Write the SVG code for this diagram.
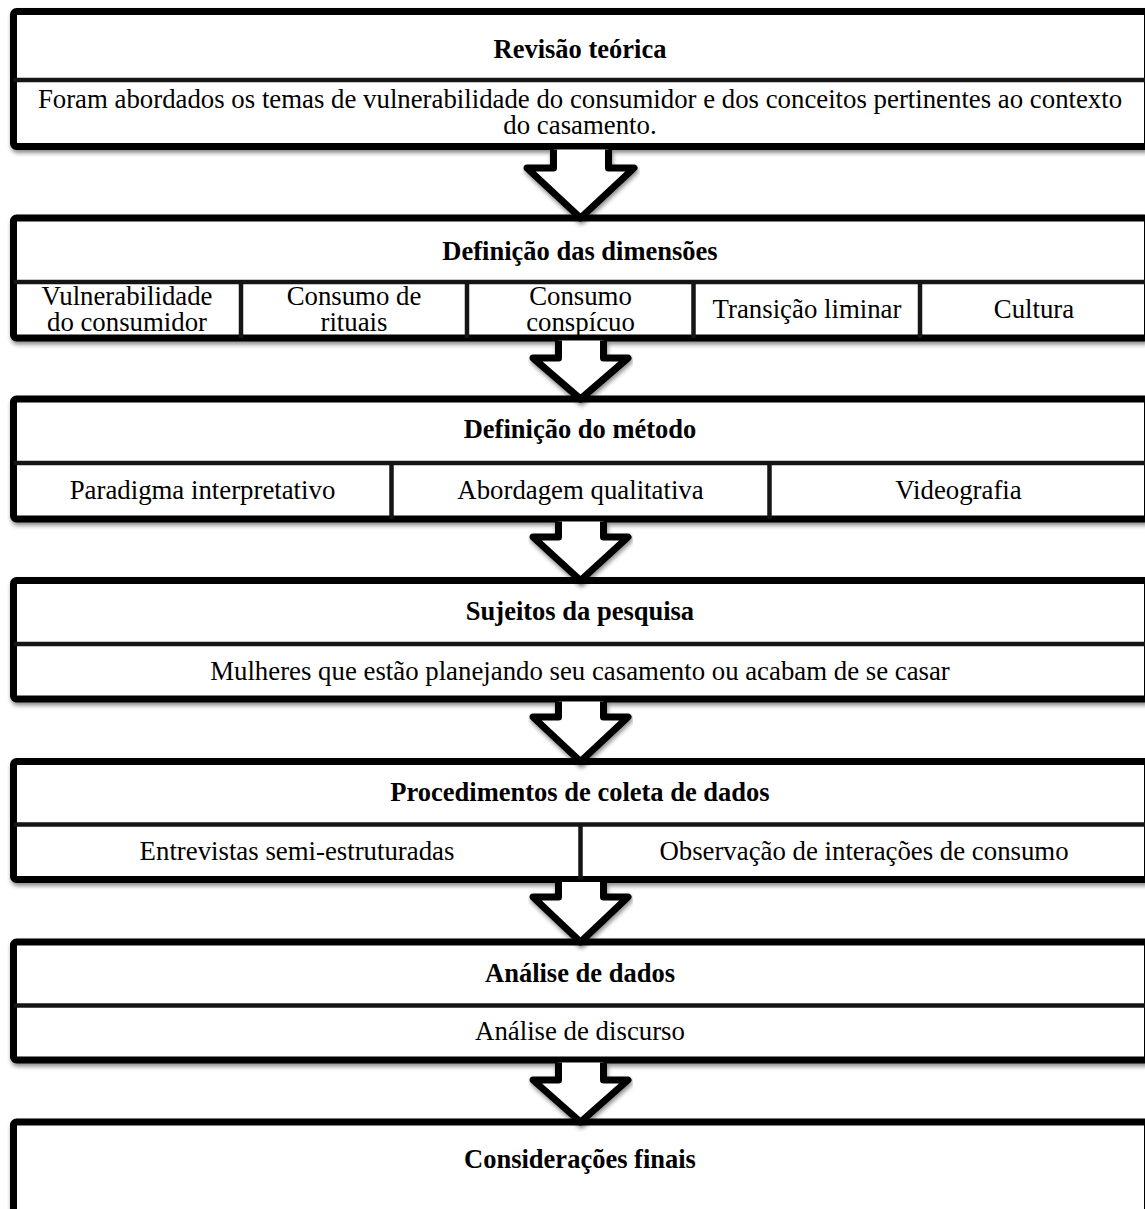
<svg xmlns="http://www.w3.org/2000/svg" width="1145" height="1209" viewBox="0 0 1145 1209">
<defs>
<filter id="sh" x="-5%" y="-10%" width="110%" height="130%">
<feDropShadow dx="1" dy="3" stdDeviation="2" flood-color="#000" flood-opacity="0.45"/>
</filter>
</defs>
<style>
.box{fill:#fff;stroke:#000;stroke-width:7;stroke-linejoin:round}
.div{stroke:#151515;stroke-width:4.5;fill:none}
.arr{fill:#fff;stroke:#000;stroke-width:7;stroke-linejoin:round;stroke-linecap:butt}
.t{font-weight:bold;font-size:26.5px}
</style>
<rect width="1145" height="1209" fill="#fff"/>

<g id="n1" font-family="Liberation Serif, serif" font-size="26.8" text-anchor="middle" fill="#000">
<rect class="box" x="13.5" y="11.5" width="1134" height="135" rx="3" filter="url(#sh)"/>
<line class="div" x1="13.5" y1="80" x2="1147.5" y2="80"/>
<text class="t" x="580" y="58">Revisão teórica</text>
<text x="580" y="107.5">Foram abordados os temas de vulnerabilidade do consumidor e dos conceitos pertinentes ao contexto</text>
<text x="580" y="133.5">do casamento.</text>
</g>

<g id="n2" font-family="Liberation Serif, serif" font-size="26.8" text-anchor="middle" fill="#000">
<rect class="box" x="13.5" y="218" width="1134" height="120" rx="3" filter="url(#sh)"/>
<line class="div" x1="13.5" y1="282" x2="1147.5" y2="282"/>
<line class="div" x1="241" y1="282" x2="241" y2="338"/>
<line class="div" x1="467" y1="282" x2="467" y2="338"/>
<line class="div" x1="693.5" y1="282" x2="693.5" y2="338"/>
<line class="div" x1="920" y1="282" x2="920" y2="338"/>
<text class="t" x="580" y="259.5">Definição das dimensões</text>
<text x="127" y="305">Vulnerabilidade</text>
<text x="127" y="331">do consumidor</text>
<text x="354" y="305">Consumo de</text>
<text x="354" y="331">rituais</text>
<text x="580.5" y="305">Consumo</text>
<text x="580.5" y="331">conspícuo</text>
<text x="807" y="318">Transição liminar</text>
<text x="1034" y="318">Cultura</text>
</g>

<g id="n3" font-family="Liberation Serif, serif" font-size="26.8" text-anchor="middle" fill="#000">
<rect class="box" x="13.5" y="399" width="1134" height="120" rx="3" filter="url(#sh)"/>
<line class="div" x1="13.5" y1="463" x2="1147.5" y2="463"/>
<line class="div" x1="391.5" y1="463" x2="391.5" y2="519"/>
<line class="div" x1="769.5" y1="463" x2="769.5" y2="519"/>
<text class="t" x="580" y="438">Definição do método</text>
<text x="202.5" y="499">Paradigma interpretativo</text>
<text x="580.5" y="499">Abordagem qualitativa</text>
<text x="958.5" y="499">Videografia</text>
</g>

<g id="n4" font-family="Liberation Serif, serif" font-size="26.8" text-anchor="middle" fill="#000">
<rect class="box" x="13.5" y="580.5" width="1134" height="118.5" rx="3" filter="url(#sh)"/>
<line class="div" x1="13.5" y1="644" x2="1147.5" y2="644"/>
<text class="t" x="580" y="619.5">Sujeitos da pesquisa</text>
<text x="580" y="679.5">Mulheres que estão planejando seu casamento ou acabam de se casar</text>
</g>

<g id="n5" font-family="Liberation Serif, serif" font-size="26.8" text-anchor="middle" fill="#000">
<rect class="box" x="13.5" y="761.5" width="1134" height="118" rx="3" filter="url(#sh)"/>
<line class="div" x1="13.5" y1="824.5" x2="1147.5" y2="824.5"/>
<line class="div" x1="580.5" y1="824.5" x2="580.5" y2="879.5"/>
<text class="t" x="580" y="800.5">Procedimentos de coleta de dados</text>
<text x="297" y="860">Entrevistas semi-estruturadas</text>
<text x="864" y="860">Observação de interações de consumo</text>
</g>

<g id="n6" font-family="Liberation Serif, serif" font-size="26.8" text-anchor="middle" fill="#000">
<rect class="box" x="13.5" y="942" width="1134" height="118" rx="3" filter="url(#sh)"/>
<line class="div" x1="13.5" y1="1005.5" x2="1147.5" y2="1005.5"/>
<text class="t" x="580" y="981.5">Análise de dados</text>
<text x="580" y="1040">Análise de discurso</text>
</g>

<g id="n7" font-family="Liberation Serif, serif" font-size="26.8" text-anchor="middle" fill="#000">
<rect class="box" x="13.5" y="1122" width="1134" height="140" rx="3" filter="url(#sh)"/>
<text class="t" x="580" y="1168">Considerações finais</text>
</g>

<g id="connectors">
<path class="arr" filter="url(#sh)" d="M553.5,149.5 L553.5,168 L527,168 L580.5,218 L634,168 L608.5,168 L608.5,149.5"/>
<path class="arr" filter="url(#sh)" d="M558.5,340.5 L558.5,358 L533,358 L580.5,399 L628,358 L603.5,358 L603.5,340.5"/>
<path class="arr" filter="url(#sh)" d="M558.5,521.5 L558.5,537 L533,537 L580.5,580.5 L628,537 L603.5,537 L603.5,521.5"/>
<path class="arr" filter="url(#sh)" d="M558.5,701.5 L558.5,717 L533,717 L580.5,761.5 L628,717 L603.5,717 L603.5,701.5"/>
<path class="arr" filter="url(#sh)" d="M558.5,882 L558.5,897 L533,897 L580.5,942 L628,897 L603.5,897 L603.5,882"/>
<path class="arr" filter="url(#sh)" d="M558.5,1062.5 L558.5,1080 L533,1080 L580.5,1122 L628,1080 L603.5,1080 L603.5,1062.5"/>
</g>
</svg>
